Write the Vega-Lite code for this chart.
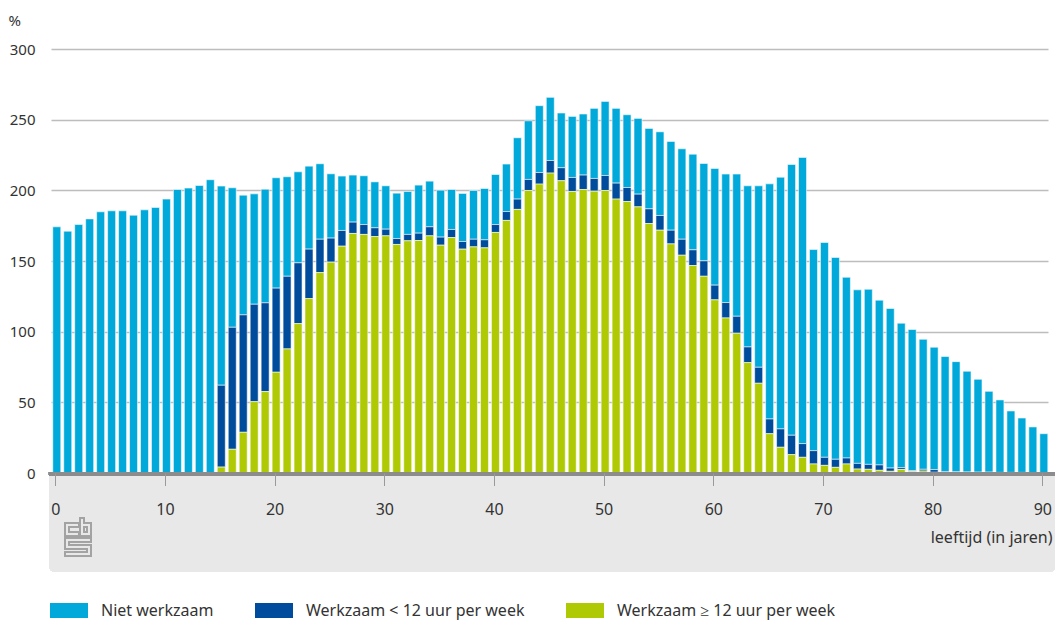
{
  "$schema": "https://vega.github.io/schema/vega-lite/v6.json",
  "width": 997,
  "height": 424,
  "autosize": {"type": "none"},
  "padding": {"left": 51, "top": 49, "right": 7, "bottom": 149},
  "background": "#ffffff",
  "config": {
    "view": {"stroke": null},
    "font": "Noto Sans",
    "axis": {"labelFont": "Noto Sans", "titleFont": "Noto Sans"},
    "legend": {"labelFont": "Noto Sans"}
  },
  "data": {
    "values": [
      {"leeftijd": 0, "Niet werkzaam": 174.2, "Werkzaam < 12 uur per week": 0, "Werkzaam ≥ 12 uur per week": 0},
      {"leeftijd": 1, "Niet werkzaam": 171.1, "Werkzaam < 12 uur per week": 0, "Werkzaam ≥ 12 uur per week": 0},
      {"leeftijd": 2, "Niet werkzaam": 175.8, "Werkzaam < 12 uur per week": 0, "Werkzaam ≥ 12 uur per week": 0},
      {"leeftijd": 3, "Niet werkzaam": 179.8, "Werkzaam < 12 uur per week": 0, "Werkzaam ≥ 12 uur per week": 0},
      {"leeftijd": 4, "Niet werkzaam": 184.8, "Werkzaam < 12 uur per week": 0, "Werkzaam ≥ 12 uur per week": 0},
      {"leeftijd": 5, "Niet werkzaam": 185.5, "Werkzaam < 12 uur per week": 0, "Werkzaam ≥ 12 uur per week": 0},
      {"leeftijd": 6, "Niet werkzaam": 185.5, "Werkzaam < 12 uur per week": 0, "Werkzaam ≥ 12 uur per week": 0},
      {"leeftijd": 7, "Niet werkzaam": 182.4, "Werkzaam < 12 uur per week": 0, "Werkzaam ≥ 12 uur per week": 0},
      {"leeftijd": 8, "Niet werkzaam": 186.2, "Werkzaam < 12 uur per week": 0, "Werkzaam ≥ 12 uur per week": 0},
      {"leeftijd": 9, "Niet werkzaam": 187.9, "Werkzaam < 12 uur per week": 0, "Werkzaam ≥ 12 uur per week": 0},
      {"leeftijd": 10, "Niet werkzaam": 193.8, "Werkzaam < 12 uur per week": 0, "Werkzaam ≥ 12 uur per week": 0},
      {"leeftijd": 11, "Niet werkzaam": 200.6, "Werkzaam < 12 uur per week": 0, "Werkzaam ≥ 12 uur per week": 0},
      {"leeftijd": 12, "Niet werkzaam": 201.6, "Werkzaam < 12 uur per week": 0, "Werkzaam ≥ 12 uur per week": 0},
      {"leeftijd": 13, "Niet werkzaam": 203.4, "Werkzaam < 12 uur per week": 0, "Werkzaam ≥ 12 uur per week": 0},
      {"leeftijd": 14, "Niet werkzaam": 207.5, "Werkzaam < 12 uur per week": 0, "Werkzaam ≥ 12 uur per week": 0},
      {"leeftijd": 15, "Niet werkzaam": 140.9, "Werkzaam < 12 uur per week": 57.9, "Werkzaam ≥ 12 uur per week": 4.2},
      {"leeftijd": 16, "Niet werkzaam": 98.7, "Werkzaam < 12 uur per week": 86.3, "Werkzaam ≥ 12 uur per week": 16.8},
      {"leeftijd": 17, "Niet werkzaam": 84.7, "Werkzaam < 12 uur per week": 83.1, "Werkzaam ≥ 12 uur per week": 28.8},
      {"leeftijd": 18, "Niet werkzaam": 78.1, "Werkzaam < 12 uur per week": 68.9, "Werkzaam ≥ 12 uur per week": 50.5},
      {"leeftijd": 19, "Niet werkzaam": 80.4, "Werkzaam < 12 uur per week": 62.8, "Werkzaam ≥ 12 uur per week": 57.6},
      {"leeftijd": 20, "Niet werkzaam": 78.1, "Werkzaam < 12 uur per week": 59.5, "Werkzaam ≥ 12 uur per week": 71.3},
      {"leeftijd": 21, "Niet werkzaam": 70.4, "Werkzaam < 12 uur per week": 51.4, "Werkzaam ≥ 12 uur per week": 87.8},
      {"leeftijd": 22, "Niet werkzaam": 64.4, "Werkzaam < 12 uur per week": 43.0, "Werkzaam ≥ 12 uur per week": 105.7},
      {"leeftijd": 23, "Niet werkzaam": 58.7, "Werkzaam < 12 uur per week": 35.0, "Werkzaam ≥ 12 uur per week": 123.4},
      {"leeftijd": 24, "Niet werkzaam": 53.4, "Werkzaam < 12 uur per week": 23.6, "Werkzaam ≥ 12 uur per week": 141.8},
      {"leeftijd": 25, "Niet werkzaam": 45.5, "Werkzaam < 12 uur per week": 17.0, "Werkzaam ≥ 12 uur per week": 149.2},
      {"leeftijd": 26, "Niet werkzaam": 38.5, "Werkzaam < 12 uur per week": 11.1, "Werkzaam ≥ 12 uur per week": 160.5},
      {"leeftijd": 27, "Niet werkzaam": 33.3, "Werkzaam < 12 uur per week": 8.0, "Werkzaam ≥ 12 uur per week": 169.5},
      {"leeftijd": 28, "Niet werkzaam": 34.5, "Werkzaam < 12 uur per week": 7.0, "Werkzaam ≥ 12 uur per week": 168.8},
      {"leeftijd": 29, "Niet werkzaam": 32.5, "Werkzaam < 12 uur per week": 6.2, "Werkzaam ≥ 12 uur per week": 167.3},
      {"leeftijd": 30, "Niet werkzaam": 30.7, "Werkzaam < 12 uur per week": 4.7, "Werkzaam ≥ 12 uur per week": 167.8},
      {"leeftijd": 31, "Niet werkzaam": 32.1, "Werkzaam < 12 uur per week": 4.2, "Werkzaam ≥ 12 uur per week": 161.7},
      {"leeftijd": 32, "Niet werkzaam": 30.4, "Werkzaam < 12 uur per week": 4.5, "Werkzaam ≥ 12 uur per week": 164.3},
      {"leeftijd": 33, "Niet werkzaam": 34.0, "Werkzaam < 12 uur per week": 5.2, "Werkzaam ≥ 12 uur per week": 164.5},
      {"leeftijd": 34, "Niet werkzaam": 32.3, "Werkzaam < 12 uur per week": 6.4, "Werkzaam ≥ 12 uur per week": 167.8},
      {"leeftijd": 35, "Niet werkzaam": 33.2, "Werkzaam < 12 uur per week": 5.7, "Werkzaam ≥ 12 uur per week": 161.2},
      {"leeftijd": 36, "Niet werkzaam": 28.3, "Werkzaam < 12 uur per week": 5.7, "Werkzaam ≥ 12 uur per week": 166.6},
      {"leeftijd": 37, "Niet werkzaam": 34.0, "Werkzaam < 12 uur per week": 5.4, "Werkzaam ≥ 12 uur per week": 158.4},
      {"leeftijd": 38, "Niet werkzaam": 34.5, "Werkzaam < 12 uur per week": 5.4, "Werkzaam ≥ 12 uur per week": 160.0},
      {"leeftijd": 39, "Niet werkzaam": 36.3, "Werkzaam < 12 uur per week": 5.7, "Werkzaam ≥ 12 uur per week": 159.3},
      {"leeftijd": 40, "Niet werkzaam": 35.4, "Werkzaam < 12 uur per week": 5.6, "Werkzaam ≥ 12 uur per week": 170.2},
      {"leeftijd": 41, "Niet werkzaam": 33.6, "Werkzaam < 12 uur per week": 6.3, "Werkzaam ≥ 12 uur per week": 178.7},
      {"leeftijd": 42, "Niet werkzaam": 43.4, "Werkzaam < 12 uur per week": 7.3, "Werkzaam ≥ 12 uur per week": 186.5},
      {"leeftijd": 43, "Niet werkzaam": 41.5, "Werkzaam < 12 uur per week": 7.8, "Werkzaam ≥ 12 uur per week": 199.9},
      {"leeftijd": 44, "Niet werkzaam": 47.3, "Werkzaam < 12 uur per week": 8.2, "Werkzaam ≥ 12 uur per week": 204.4},
      {"leeftijd": 45, "Niet werkzaam": 44.7, "Werkzaam < 12 uur per week": 8.9, "Werkzaam ≥ 12 uur per week": 212.2},
      {"leeftijd": 46, "Niet werkzaam": 38.7, "Werkzaam < 12 uur per week": 9.2, "Werkzaam ≥ 12 uur per week": 206.8},
      {"leeftijd": 47, "Niet werkzaam": 43.2, "Werkzaam < 12 uur per week": 9.9, "Werkzaam ≥ 12 uur per week": 199.2},
      {"leeftijd": 48, "Niet werkzaam": 43.2, "Werkzaam < 12 uur per week": 10.2, "Werkzaam ≥ 12 uur per week": 200.6},
      {"leeftijd": 49, "Niet werkzaam": 49.6, "Werkzaam < 12 uur per week": 9.0, "Werkzaam ≥ 12 uur per week": 199.4},
      {"leeftijd": 50, "Niet werkzaam": 52.4, "Werkzaam < 12 uur per week": 10.6, "Werkzaam ≥ 12 uur per week": 199.9},
      {"leeftijd": 51, "Niet werkzaam": 52.9, "Werkzaam < 12 uur per week": 11.3, "Werkzaam ≥ 12 uur per week": 193.8},
      {"leeftijd": 52, "Niet werkzaam": 51.5, "Werkzaam < 12 uur per week": 9.9, "Werkzaam ≥ 12 uur per week": 192.1},
      {"leeftijd": 53, "Niet werkzaam": 53.6, "Werkzaam < 12 uur per week": 9.0, "Werkzaam ≥ 12 uur per week": 188.3},
      {"leeftijd": 54, "Niet werkzaam": 56.9, "Werkzaam < 12 uur per week": 10.4, "Werkzaam ≥ 12 uur per week": 176.5},
      {"leeftijd": 55, "Niet werkzaam": 59.2, "Werkzaam < 12 uur per week": 10.4, "Werkzaam ≥ 12 uur per week": 171.8},
      {"leeftijd": 56, "Niet werkzaam": 62.8, "Werkzaam < 12 uur per week": 9.7, "Werkzaam ≥ 12 uur per week": 162.1},
      {"leeftijd": 57, "Niet werkzaam": 64.0, "Werkzaam < 12 uur per week": 11.3, "Werkzaam ≥ 12 uur per week": 154.1},
      {"leeftijd": 58, "Niet werkzaam": 67.7, "Werkzaam < 12 uur per week": 11.1, "Werkzaam ≥ 12 uur per week": 146.8},
      {"leeftijd": 59, "Niet werkzaam": 68.9, "Werkzaam < 12 uur per week": 10.9, "Werkzaam ≥ 12 uur per week": 139.2},
      {"leeftijd": 60, "Niet werkzaam": 82.6, "Werkzaam < 12 uur per week": 10.4, "Werkzaam ≥ 12 uur per week": 122.5},
      {"leeftijd": 61, "Niet werkzaam": 90.9, "Werkzaam < 12 uur per week": 10.9, "Werkzaam ≥ 12 uur per week": 109.7},
      {"leeftijd": 62, "Niet werkzaam": 100.6, "Werkzaam < 12 uur per week": 12.0, "Werkzaam ≥ 12 uur per week": 98.9},
      {"leeftijd": 63, "Niet werkzaam": 114.0, "Werkzaam < 12 uur per week": 11.1, "Werkzaam ≥ 12 uur per week": 78.1},
      {"leeftijd": 64, "Niet werkzaam": 128.4, "Werkzaam < 12 uur per week": 11.3, "Werkzaam ≥ 12 uur per week": 63.5},
      {"leeftijd": 65, "Niet werkzaam": 166.4, "Werkzaam < 12 uur per week": 10.4, "Werkzaam ≥ 12 uur per week": 27.8},
      {"leeftijd": 66, "Niet werkzaam": 178.1, "Werkzaam < 12 uur per week": 13.0, "Werkzaam ≥ 12 uur per week": 18.2},
      {"leeftijd": 67, "Niet werkzaam": 191.6, "Werkzaam < 12 uur per week": 13.7, "Werkzaam ≥ 12 uur per week": 13.0},
      {"leeftijd": 68, "Niet werkzaam": 202.5, "Werkzaam < 12 uur per week": 9.7, "Werkzaam ≥ 12 uur per week": 11.1},
      {"leeftijd": 69, "Niet werkzaam": 142.3, "Werkzaam < 12 uur per week": 9.4, "Werkzaam ≥ 12 uur per week": 6.4},
      {"leeftijd": 70, "Niet werkzaam": 152.0, "Werkzaam < 12 uur per week": 5.7, "Werkzaam ≥ 12 uur per week": 5.4},
      {"leeftijd": 71, "Niet werkzaam": 142.8, "Werkzaam < 12 uur per week": 5.7, "Werkzaam ≥ 12 uur per week": 4.0},
      {"leeftijd": 72, "Niet werkzaam": 127.9, "Werkzaam < 12 uur per week": 4.2, "Werkzaam ≥ 12 uur per week": 6.4},
      {"leeftijd": 73, "Niet werkzaam": 122.8, "Werkzaam < 12 uur per week": 4.0, "Werkzaam ≥ 12 uur per week": 2.8},
      {"leeftijd": 74, "Niet werkzaam": 123.9, "Werkzaam < 12 uur per week": 3.5, "Werkzaam ≥ 12 uur per week": 2.6},
      {"leeftijd": 75, "Niet werkzaam": 116.6, "Werkzaam < 12 uur per week": 3.8, "Werkzaam ≥ 12 uur per week": 1.9},
      {"leeftijd": 76, "Niet werkzaam": 112.9, "Werkzaam < 12 uur per week": 2.3, "Werkzaam ≥ 12 uur per week": 1.2},
      {"leeftijd": 77, "Niet werkzaam": 102.2, "Werkzaam < 12 uur per week": 1.3, "Werkzaam ≥ 12 uur per week": 2.5},
      {"leeftijd": 78, "Niet werkzaam": 99.8, "Werkzaam < 12 uur per week": 0.7, "Werkzaam ≥ 12 uur per week": 1.0},
      {"leeftijd": 79, "Niet werkzaam": 92.0, "Werkzaam < 12 uur per week": 1.2, "Werkzaam ≥ 12 uur per week": 1.4},
      {"leeftijd": 80, "Niet werkzaam": 86.6, "Werkzaam < 12 uur per week": 1.9, "Werkzaam ≥ 12 uur per week": 0.5},
      {"leeftijd": 81, "Niet werkzaam": 81.5, "Werkzaam < 12 uur per week": 0.6, "Werkzaam ≥ 12 uur per week": 0.3},
      {"leeftijd": 82, "Niet werkzaam": 78.0, "Werkzaam < 12 uur per week": 0.5, "Werkzaam ≥ 12 uur per week": 0.3},
      {"leeftijd": 83, "Niet werkzaam": 71.3, "Werkzaam < 12 uur per week": 0.5, "Werkzaam ≥ 12 uur per week": 0.2},
      {"leeftijd": 84, "Niet werkzaam": 65.7, "Werkzaam < 12 uur per week": 0.4, "Werkzaam ≥ 12 uur per week": 0.2},
      {"leeftijd": 85, "Niet werkzaam": 57.2, "Werkzaam < 12 uur per week": 0.4, "Werkzaam ≥ 12 uur per week": 0.2},
      {"leeftijd": 86, "Niet werkzaam": 51.3, "Werkzaam < 12 uur per week": 0.3, "Werkzaam ≥ 12 uur per week": 0.1},
      {"leeftijd": 87, "Niet werkzaam": 43.5, "Werkzaam < 12 uur per week": 0.3, "Werkzaam ≥ 12 uur per week": 0.1},
      {"leeftijd": 88, "Niet werkzaam": 38.5, "Werkzaam < 12 uur per week": 0.3, "Werkzaam ≥ 12 uur per week": 0.1},
      {"leeftijd": 89, "Niet werkzaam": 32.3, "Werkzaam < 12 uur per week": 0.2, "Werkzaam ≥ 12 uur per week": 0.1},
      {"leeftijd": 90, "Niet werkzaam": 27.5, "Werkzaam < 12 uur per week": 0.2, "Werkzaam ≥ 12 uur per week": 0.1}
    ]
  },
  "layer": [
    {
      "mark": {"type": "rect", "clip": false, "color": "#e8e8e8", "cornerRadius": 6},
      "encoding": {
        "x": {"datum": -0.574, "type": "quantitative"},
        "x2": {"datum": 91.2},
        "y": {"datum": 0, "type": "quantitative"},
        "y2": {"datum": -70}
      }
    },
    {
      "transform": [
        {"fold": ["Niet werkzaam", "Werkzaam < 12 uur per week", "Werkzaam ≥ 12 uur per week"], "as": ["status", "waarde"]}
      ],
      "mark": {"type": "bar", "width": 8, "xOffset": 1.5, "stroke": "#ffffff", "strokeWidth": 0.7, "strokeOpacity": 0.8},
      "encoding": {
        "x": {
          "field": "leeftijd",
          "type": "quantitative",
          "scale": {"domain": [-0.39, 90.52], "nice": false, "zero": false, "padding": 0},
          "axis": {
            "values": [0, 10, 20, 30, 40, 50, 60, 70, 80, 90],
            "domain": false,
            "grid": false,
            "zindex": 1,
            "tickSize": 12.5,
            "tickColor": "#9a9a9a",
            "tickWidth": 1,
            "labelPadding": 16,
            "labelFontSize": 16,
            "labelColor": "#333333",
            "labelFlush": false,
            "title": "leeftijd (in jaren)",
            "titleAnchor": "end",
            "titleAlign": "right",
            "titleX": 1001,
            "titleY": 64,
            "titleBaseline": "middle",
            "titleFontSize": 16,
            "titleFontWeight": "normal",
            "titleColor": "#333333"
          }
        },
        "y": {
          "field": "waarde",
          "type": "quantitative",
          "stack": "zero",
          "scale": {"domain": [0, 300], "nice": false},
          "axis": {
            "values": [0, 50, 100, 150, 200, 250, 300],
            "domain": false,
            "ticks": false,
            "grid": true,
            "gridColor": "#bdbdbd",
            "gridWidth": 1.3,
            "labelPadding": 16,
            "labelFontSize": 15,
            "labelColor": "#333333",
            "title": "%",
            "titleAngle": 0,
            "titleAlign": "left",
            "titleBaseline": "middle",
            "titleX": -43,
            "titleY": -29,
            "titleFontSize": 15,
            "titleFontWeight": "normal",
            "titleColor": "#333333"
          }
        },
        "color": {
          "field": "status",
          "type": "nominal",
          "scale": {
            "domain": ["Niet werkzaam", "Werkzaam < 12 uur per week", "Werkzaam ≥ 12 uur per week"],
            "range": ["#00A9DA", "#004C9C", "#AFCA05"]
          },
          "legend": {
            "orient": "none",
            "legendX": -1,
            "legendY": 542.5,
            "direction": "horizontal",
            "columns": 3,
            "title": null,
            "padding": 0,
            "symbolType": "M-1,-0.4H1V0.4H-1Z",
            "symbolSize": 1444,
            "symbolStrokeWidth": 0,
            "symbolOpacity": 1,
            "labelFontSize": 16,
            "labelColor": "#333333",
            "labelOffset": 13,
            "columnPadding": 41,
            "labelLimit": 400
          }
        },
        "order": {"field": "status", "sort": "descending"}
      }
    },
    {
      "mark": {"type": "rule", "clip": false, "color": "#8c8c8c", "strokeWidth": 3.5},
      "encoding": {
        "x": {"datum": -0.574, "type": "quantitative"},
        "x2": {"datum": 91.2},
        "y": {"datum": -0.6, "type": "quantitative"}
      }
    },
    {
      "mark": {
        "type": "point",
        "clip": false,
        "filled": false,
        "stroke": "#a3a3a3",
        "strokeWidth": 1.2,
        "opacity": 1,
        "shape": "M0.051,-0.744H-0.667V-0.062H0.051V-0.256H-0.462V-0.538H0.051Z M0.103,-1H0.308V-0.744H0.667V-0.062H0.103Z M0.308,-0.538H0.462V-0.256H0.308Z M-0.667,0.026H0.667V0.231H-0.462V0.385H0.667V0.964H-0.667V0.769H0.462V0.590H-0.667Z",
        "size": 1521
      },
      "encoding": {
        "x": {"datum": 2.06, "type": "quantitative"},
        "y": {"datum": -45.6, "type": "quantitative"}
      }
    }
  ]
}
